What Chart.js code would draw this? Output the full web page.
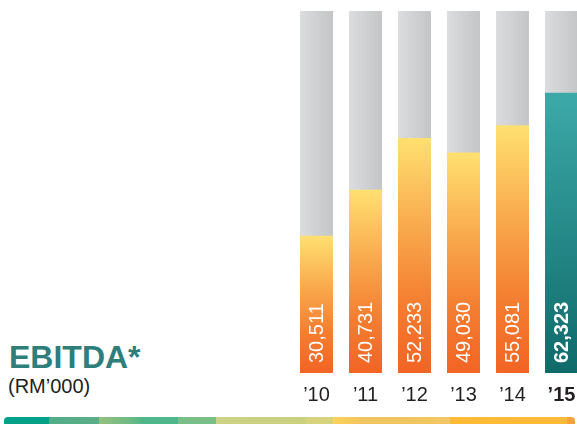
<!DOCTYPE html>
<html>
<head>
<meta charset="utf-8">
<script src="https://cdn.jsdelivr.net/npm/chart.js@4.4.0/dist/chart.umd.min.js"></script>
<style>
    html, body { margin: 0; padding: 0; background: #fff; overflow: hidden; }
    body { width: 577px; height: 424px; position: relative; font-family: "Liberation Sans", Arial, sans-serif; }
    #wrap { position: absolute; left: 292px; top: 0; width: 294px; height: 424px; }
    .title { position: absolute; left: 9px; top: 341px; font-size: 32px; line-height: 32px; font-weight: bold; color: #2e7e7b; }
    .unit { position: absolute; left: 8px; top: 376px; font-size: 20px; line-height: 20px; color: #231f20; }
    .strip {
        position: absolute; left: 4px; top: 417px; width: 571px; height: 7px;
        border-radius: 4px 4px 0 0;
        background: linear-gradient(to right,
            #00a18a 0px, #00a18a 45px, #52ad88 45px, #5aae88 95px, #95c07f 95px, #6fbb85 125px,
            #4db68a 140px, #4db68a 174px, #7bbf88 174px, #7bbf88 212px, #cdd284 212px, #c9d07e 302px,
            #d6d27e 302px, #d6d27e 329px, #fdd35a 329px, #f0c45e 360px, #f0c65f 431px, #f2c565 431px,
            #f2c565 446px, #fdbb35 446px, #fdba38 563px, #f9a23d 563px, #f9a23d 571px);
    }
</style>
</head>
<body>
<div class="title">EBITDA*</div>
<div class="unit">(RM’000)</div>
<div id="wrap"><canvas id="chart"></canvas></div>
<div class="strip"></div>
<script>
const years = ["’10", "’11", "’12", "’13", "’14", "’15"];
const ebitda = [30511, 40731, 52233, 49030, 55081, 62323];
const backdrop = [80500, 80500, 80500, 80500, 80500, 80500];
const axisMax = 80500;

// gradient for each bar, from its own top down to the base
function valueFill(ctx) {
    const chart = ctx.chart;
    const y = chart.scales.y;
    if (!chart.chartArea || !y) return "#f47a2c";
    const top = y.getPixelForValue(ctx.raw);
    const base = y.getPixelForValue(0);
    const g = chart.ctx.createLinearGradient(0, top, 0, base);
    if (ctx.dataIndex === ebitda.length - 1) {
        g.addColorStop(0, "#3ca9a8");
        g.addColorStop(1, "#106a6a");
    } else {
        g.addColorStop(0, "#ffe070");
        g.addColorStop(0.35, "#f9ad4f");
        g.addColorStop(0.7, "#f47e31");
        g.addColorStop(1, "#f26424");
    }
    return g;
}

function greyFill(ctx) {
    const chart = ctx.chart;
    const x = chart.scales.x;
    if (!chart.chartArea || !x) return "#cfd0d2";
    const cx = x.getPixelForValue(ctx.dataIndex);
    const half = (x.width / years.length) * 0.673 / 2;
    const g = chart.ctx.createLinearGradient(cx - half, 0, cx + half, 0);
    g.addColorStop(0, "#dbdcde");
    g.addColorStop(1, "#c4c5c7");
    return g;
}

const barLabels = {
    id: "barLabels",
    afterDatasetsDraw(chart) {
        const meta = chart.getDatasetMeta(1);
        const c = chart.ctx;
        c.save();
        c.fillStyle = "#ffffff";
        c.textAlign = "left";
        c.textBaseline = "middle";
        meta.data.forEach((bar, i) => {
            const last = i === ebitda.length - 1;
            c.font = (last ? "bold " : "") + "20px 'Liberation Sans', Arial, sans-serif";
            c.save();
            c.translate(bar.x + 1, bar.base - 10);
            c.rotate(-Math.PI / 2);
            c.fillText(ebitda[i].toLocaleString("en-US"), 0, 0);
            c.restore();
        });
        c.restore();
    }
};

new Chart(document.getElementById("chart"), {
    type: "bar",
    data: {
        labels: years,
        datasets: [
            {
                data: backdrop,
                backgroundColor: greyFill,
                grouped: false,
                order: 2,
                barPercentage: 0.673,
                categoryPercentage: 1,
            },
            {
                data: ebitda,
                backgroundColor: valueFill,
                grouped: false,
                order: 1,
                barPercentage: 0.673,
                categoryPercentage: 1,
            },
        ],
    },
    options: {
        responsive: true,
        maintainAspectRatio: false,
        animation: false,
        layout: { padding: { top: 11, bottom: 7, left: 0, right: 0 } },
        plugins: {
            legend: { display: false },
            tooltip: { enabled: false },
        },
        scales: {
            x: {
                grid: { display: false, drawTicks: false },
                border: { display: false },
                ticks: {
                    padding: 10,
                    color: "#231f20",
                    font: (ctx) => ({
                        family: "'Liberation Sans', Arial, sans-serif",
                        size: 20,
                        weight: ctx.index === years.length - 1 ? "bold" : "normal",
                    }),
                },
            },
            y: {
                display: false,
                min: 0,
                max: axisMax,
            },
        },
    },
    plugins: [barLabels],
});
</script>
</body>
</html>
